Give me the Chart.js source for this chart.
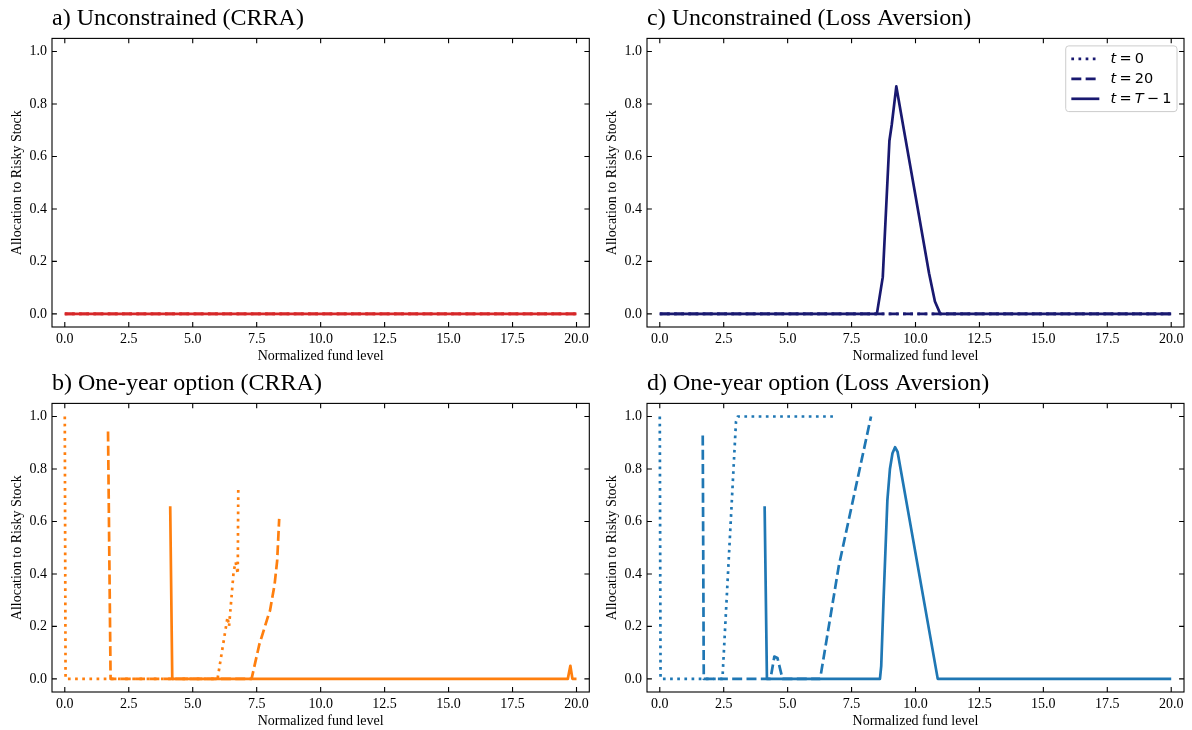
<!DOCTYPE html>
<html><head><meta charset="utf-8">
<script src="https://cdn.jsdelivr.net/npm/chart.js@4.4.1/dist/chart.umd.min.js"></script>
<style>
html,body{margin:0;padding:0;background:#fff;width:1192px;height:730px;overflow:hidden}
canvas{position:absolute;display:block}
</style></head><body>
<canvas id="pa" width="595" height="365" style="left:0;top:0"></canvas>
<canvas id="pc" width="597" height="365" style="left:595px;top:0"></canvas>
<canvas id="pb" width="595" height="365" style="left:0;top:365px"></canvas>
<canvas id="pd" width="597" height="365" style="left:595px;top:365px"></canvas>
<script>
// ---------- tick labels ----------
const xTickValues = [0, 2.5, 5, 7.5, 10, 12.5, 15, 17.5, 20];
const yTickValues = [0, 0.2, 0.4, 0.6, 0.8, 1.0];
const seriesLabels = ['t = 0', 't = 20', 't = T − 1'];
const panelTitles = ['a) Unconstrained (CRRA)', 'b) One-year option (CRRA)', 'c) Unconstrained (Loss Aversion)', 'd) One-year option (Loss Aversion)'];

// ---------- a) Unconstrained (CRRA) ----------
const aFundT0 = [0, 20];
const aAllocT0 = [0, 0];
const aFundT20 = [0, 20];
const aAllocT20 = [0, 0];
const aFundTm1 = [0, 20];
const aAllocTm1 = [0, 0];

// ---------- c) Unconstrained (Loss Aversion) ----------
const cFundT0 = [0, 20];
const cAllocT0 = [0, 0];
const cFundT20 = [0, 20];
const cAllocT20 = [0, 0];
const cFundTm1 = [0, 8.49, 8.72, 8.98, 9.07, 9.25, 9.53, 10.0, 10.53, 10.76, 10.97, 20];
const cAllocTm1 = [0, 0, 0.14, 0.66, 0.72, 0.867, 0.71, 0.45, 0.155, 0.047, 0, 0];

// ---------- b) One-year option (CRRA) ----------
const bFundT0 = [0, 0.03, 5.97, 6.36, 6.42, 6.6, 6.68, 6.76, 6.78];
const bAllocT0 = [1.0, 0.0, 0.0, 0.235, 0.2, 0.41, 0.445, 0.4, 0.72];
const bFundT20 = [1.69, 1.79, 7.3, 7.6, 7.95, 8.02, 8.2, 8.3, 8.38];
const bAllocT20 = [0.943, 0.0, 0.0, 0.13, 0.24, 0.26, 0.36, 0.45, 0.61];
const bFundTm1 = [4.12, 4.2, 19.66, 19.76, 19.84, 20];
const bAllocTm1 = [0.658, 0.0, 0.0, 0.05, 0.0, 0.0];

// ---------- d) One-year option (Loss Aversion) ----------
const dFundT0 = [0, 0.03, 2.45, 2.98, 3.05, 6.79];
const dAllocT0 = [1.0, 0.0, 0.0, 0.98, 1.0, 1.0];
const dFundT20 = [1.68, 1.72, 4.33, 4.48, 4.6, 4.8, 6.27, 7.0, 8.26];
const dAllocT20 = [0.928, 0.0, 0.0, 0.085, 0.08, 0.0, 0.0, 0.43, 1.0];
const dFundTm1 = [4.1, 4.19, 8.61, 8.66, 8.75, 8.9, 9.0, 9.1, 9.2, 9.3, 10.87, 20];
const dAllocTm1 = [0.658, 0.0, 0.0, 0.05, 0.3, 0.68, 0.8, 0.86, 0.883, 0.865, 0.0, 0.0];

// ---------- styling ----------
const SERIF = "'Liberation Serif', 'Times New Roman', serif";
Chart.defaults.font.family = SERIF;
Chart.defaults.color = '#000';
const LW = 2.7;
const DASHES = { dotted: [LW * 1.0, LW * 1.65], dashed: [LW * 3.7, LW * 1.6], solid: [] };
const STYLES = ['dotted', 'dashed', 'solid'];

function series(xs, ys, idx, color) {
  return {
    label: seriesLabels[idx],
    data: xs.map((x, i) => ({ x: x, y: ys[i] })),
    borderColor: color,
    backgroundColor: color,
    borderWidth: LW,
    borderDash: DASHES[STYLES[idx]],
    borderCapStyle: 'butt',
    borderJoinStyle: 'round',
    pointRadius: 0,
    pointHoverRadius: 0,
    fill: false,
    tension: 0,
    order: 2 - idx
  };
}

const framePlugin = {
  id: 'frame',
  afterDatasetsDraw(chart) {
    const { ctx, chartArea: { left, right, top, bottom }, scales: { x, y } } = chart;
    const L = 4.9;
    ctx.save();
    ctx.strokeStyle = '#000';
    ctx.lineWidth = 1.1;
    ctx.strokeRect(left, top, right - left, bottom - top);
    ctx.beginPath();
    x.ticks.forEach(t => {
      const p = x.getPixelForValue(t.value);
      ctx.moveTo(p, bottom); ctx.lineTo(p, bottom - L);
      ctx.moveTo(p, top); ctx.lineTo(p, top + L);
    });
    y.ticks.forEach(t => {
      const p = y.getPixelForValue(t.value);
      ctx.moveTo(left, p); ctx.lineTo(left + L, p);
      ctx.moveTo(right, p); ctx.lineTo(right - L, p);
    });
    ctx.stroke();
    ctx.restore();
  }
};

const LEG_FONT = 14.5;
function drawMathLabel(ctx, str, x, y) {
  const toks = str.split(' ');
  let cx = x;
  toks.forEach((tk, i) => {
    const italic = /^[A-Za-z]$/.test(tk);
    ctx.font = (italic ? 'italic ' : '') + LEG_FONT + "px 'DejaVu Sans'";
    ctx.fillText(tk, cx, y);
    cx += ctx.measureText(tk).width + (i < toks.length - 1 ? 3.2 : 0);
  });
  return cx - x;
}
function measureMathLabel(ctx, str) {
  const toks = str.split(' ');
  let w = 0;
  toks.forEach((tk, i) => {
    const italic = /^[A-Za-z]$/.test(tk);
    ctx.font = (italic ? 'italic ' : '') + LEG_FONT + "px 'DejaVu Sans'";
    w += ctx.measureText(tk).width + (i < toks.length - 1 ? 3.2 : 0);
  });
  return w;
}

const legendPlugin = {
  id: 'mplLegend',
  afterDraw(chart) {
    const { ctx, chartArea } = chart;
    const fs = 14, pad = 0.4 * fs, handle = 2 * fs, htp = 0.8 * fs, rowH = 20;
    ctx.save();
    const textW = Math.max(...chart.data.datasets.map(d => measureMathLabel(ctx, d.label)));
    const w = pad + handle + htp + textW + pad;
    const h = pad * 2 + rowH * 2 + 14.5;
    const right = chartArea.right - 7;
    const top = chartArea.top + 7.5;
    const left = right - w;
    ctx.beginPath();
    if (ctx.roundRect) ctx.roundRect(left, top, w, h, 3); else ctx.rect(left, top, w, h);
    ctx.fillStyle = 'rgba(255,255,255,0.8)';
    ctx.fill();
    ctx.strokeStyle = '#cccccc';
    ctx.lineWidth = 1;
    ctx.stroke();
    chart.data.datasets.forEach((d, i) => {
      const cy = top + pad + 7.3 + i * rowH;
      ctx.beginPath();
      ctx.setLineDash(d.borderDash);
      ctx.lineCap = 'butt';
      ctx.strokeStyle = d.borderColor;
      ctx.lineWidth = d.borderWidth;
      ctx.moveTo(left + pad, cy);
      ctx.lineTo(left + pad + handle, cy);
      ctx.stroke();
      ctx.setLineDash([]);
      ctx.fillStyle = '#000';
      ctx.textBaseline = 'middle';
      ctx.textAlign = 'left';
      drawMathLabel(ctx, d.label, left + pad + handle + htp, cy);
    });
    ctx.restore();
  }
};

function makeOptions(title, padRight) {
  return {
    responsive: false,
    animation: false,
    devicePixelRatio: 1,
    layout: { padding: { left: 0, right: padRight, top: 0, bottom: 0 } },
    plugins: {
      legend: { display: false },
      tooltip: { enabled: false },
      title: {
        display: true, text: title, align: 'start', fullSize: false, color: '#000',
        font: { size: 24, weight: 'normal', family: SERIF, lineHeight: 1.2 },
        padding: { top: 4.8, bottom: 4.8 }
      }
    },
    scales: {
      x: {
        type: 'linear', min: -0.5, max: 20.5,
        afterBuildTicks: s => { s.ticks = xTickValues.map(v => ({ value: v })); },
        afterFit: s => { s.height = 38; },
        grid: { display: false, drawTicks: false },
        border: { display: false },
        ticks: { padding: 3.5, color: '#000', font: { size: 14, family: SERIF }, maxRotation: 0, autoSkip: false,
                 callback: v => Number(v).toFixed(1) },
        title: { display: true, text: 'Normalized fund level', color: '#000', font: { size: 14, family: SERIF }, padding: { top: 0, bottom: 0 } }
      },
      y: {
        type: 'linear', min: -0.05, max: 1.05,
        afterBuildTicks: s => { s.ticks = yTickValues.map(v => ({ value: v })); },
        afterFit: s => { s.width = 52; },
        grid: { display: false, drawTicks: false },
        border: { display: false },
        ticks: { padding: 5, color: '#000', font: { size: 14, family: SERIF }, autoSkip: false,
                 callback: v => Number(v).toFixed(1) },
        title: { display: true, text: 'Allocation to Risky Stock', color: '#000', font: { size: 14, family: SERIF }, padding: { top: 8.5, bottom: 0 } }
      }
    }
  };
}

function makeChart(id, title, padRight, sets, extraPlugins) {
  new Chart(document.getElementById(id), {
    type: 'line',
    data: { datasets: sets },
    options: makeOptions(title, padRight),
    plugins: [framePlugin].concat(extraPlugins || [])
  });
}

const RED = '#d62728', NAVY = '#191970', ORANGE = '#ff7f0e', BLUE = '#1f77b4';

makeChart('pa', panelTitles[0], 5.7, [
  series(aFundT0, aAllocT0, 0, RED),
  series(aFundT20, aAllocT20, 1, RED),
  series(aFundTm1, aAllocTm1, 2, RED)
]);
makeChart('pc', panelTitles[2], 8, [
  series(cFundT0, cAllocT0, 0, NAVY),
  series(cFundT20, cAllocT20, 1, NAVY),
  series(cFundTm1, cAllocTm1, 2, NAVY)
], [legendPlugin]);
makeChart('pb', panelTitles[1], 5.7, [
  series(bFundT0, bAllocT0, 0, ORANGE),
  series(bFundT20, bAllocT20, 1, ORANGE),
  series(bFundTm1, bAllocTm1, 2, ORANGE)
]);
makeChart('pd', panelTitles[3], 8, [
  series(dFundT0, dAllocT0, 0, BLUE),
  series(dFundT20, dAllocT20, 1, BLUE),
  series(dFundTm1, dAllocTm1, 2, BLUE)
]);
</script>
</body></html>
